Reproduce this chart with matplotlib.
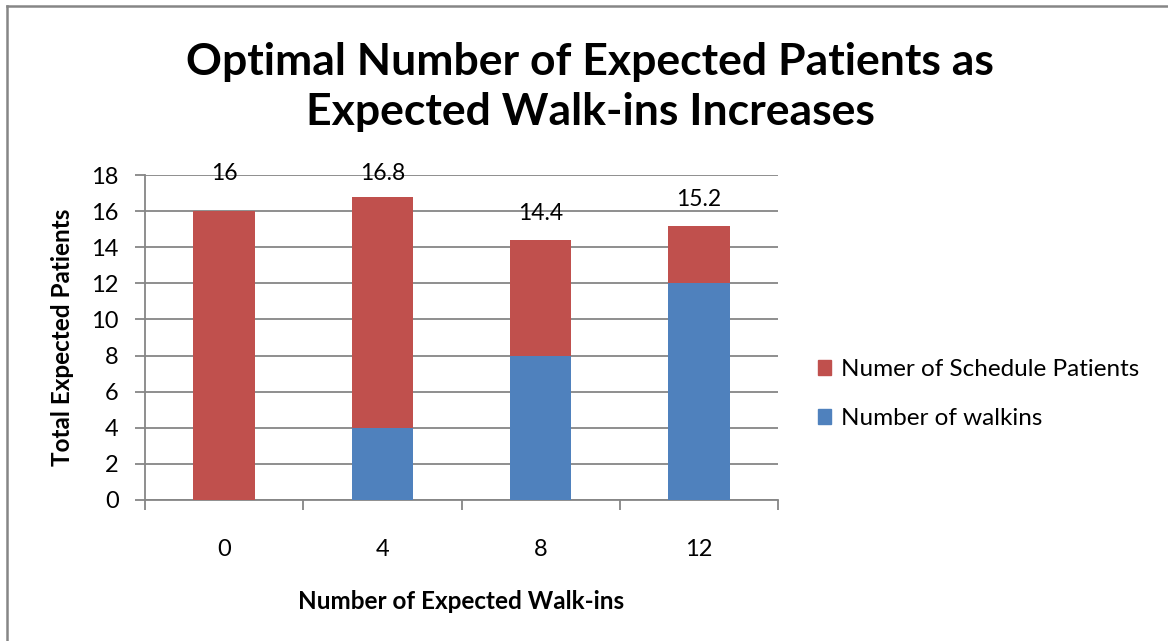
import matplotlib
matplotlib.use("Agg")
import matplotlib.pyplot as plt
from matplotlib.lines import Line2D
from matplotlib.patches import Patch

categories = ["0", "4", "8", "12"]
walkins = [0, 4, 8, 12]
scheduled = [16, 12.8, 6.4, 3.2]
totals_labels = ["16", "16.8", "14.4", "15.2"]
yticks = [0, 2, 4, 6, 8, 10, 12, 14, 16, 18]

plt.rcParams['font.family'] = ['Lato', 'DejaVu Sans']

W, H = 1168, 641
fig = plt.figure(figsize=(W / 100, H / 100), dpi=100)
ax = fig.add_axes([145 / W, (H - 500) / H, (778 - 145) / W, (500 - 175) / H])

red = "#C0504D"
blue = "#4F81BD"
grid = "#868686"

x = list(range(len(categories)))
bw = 0.39
ax.bar(x, walkins, width=bw, color=blue, label="Number of walkins", zorder=3)
ax.bar(x, scheduled, width=bw, bottom=walkins, color=red,
       label="Numer of Schedule Patients", zorder=3)

for i in x:
    tot = walkins[i] + scheduled[i]
    ly = tot + 1.45
    if ly > 17.2:
        ly = 18.1
    ax.text(i, ly, totals_labels[i], ha="center", va="center",
            fontsize=16.5, zorder=4, clip_on=False)

ax.set_xlim(-0.5, len(categories) - 0.5)
ax.set_ylim(0, 18)
ax.set_yticks(yticks)
ax.set_yticklabels([str(v) for v in yticks], fontsize=17)
ax.yaxis.grid(True, color=grid, linewidth=1.3, zorder=0)
ax.set_axisbelow(True)

ax.set_xticks(x)
ax.set_xticklabels(categories, fontsize=17)
ax.tick_params(axis="x", length=0, pad=28)
ax.set_xticks([i - 0.5 for i in range(len(categories) + 1)], minor=True)
ax.tick_params(axis="x", which="minor", length=7, color=grid, width=1.3)
ax.tick_params(axis="y", length=7, color=grid, width=1.3, pad=12)

for s in ["top", "right"]:
    ax.spines[s].set_visible(False)
for s in ["left", "bottom"]:
    ax.spines[s].set_color(grid)
    ax.spines[s].set_linewidth(1.3)

ax.set_xlabel("Number of Expected Walk-ins", fontsize=17.5, fontweight="bold", labelpad=22)
ax.set_ylabel("Total Expected Patients", fontsize=17.5, fontweight="bold", labelpad=12)

fig.text(590 / W, 1 - 87 / H, "Optimal Number of Expected Patients as\nExpected Walk-ins Increases",
         ha="center", va="center", fontsize=32, fontweight="bold", linespacing=1.32)

handles = [Patch(color=red), Patch(color=blue)]
fig.legend(handles, ["Numer of Schedule Patients", "Number of walkins"],
           loc="center left", bbox_to_anchor=(818 / W, 1 - 394 / H), frameon=False,
           fontsize=17.5, handlelength=0.55, handleheight=0.55, handletextpad=0.4,
           labelspacing=1.15, borderaxespad=0, borderpad=0)

fig.add_artist(Line2D([6.5 / W, 6.5 / W], [0, 1 - 5.5 / H], transform=fig.transFigure,
                      color=grid, linewidth=1.8))
fig.add_artist(Line2D([6.5 / W, 1], [1 - 5.5 / H, 1 - 5.5 / H], transform=fig.transFigure,
                      color=grid, linewidth=1.8))

fig.savefig("out.png", dpi=100)
